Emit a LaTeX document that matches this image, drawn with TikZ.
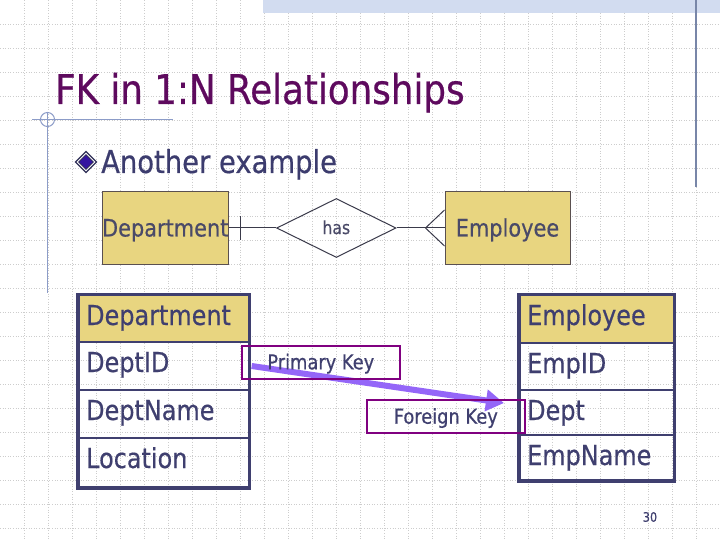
\documentclass[tikz,border=0pt]{standalone}
\usepackage{fontspec}
\setmainfont{DejaVu Sans}[FakeStretch=0.87,FakeBold=0.5]
\usetikzlibrary{shapes.geometric,arrows.meta,calc}
\definecolor{titlec}{HTML}{5E0A5E}
\definecolor{bodyc}{HTML}{3C3C6E}
\definecolor{tanc}{HTML}{E8D580}
\definecolor{navyc}{HTML}{3F3F6F}
\definecolor{erline}{HTML}{3A3A4A}
\definecolor{erbord}{HTML}{5A5050}
\definecolor{ertext}{HTML}{4A4A68}
\definecolor{keyc}{HTML}{800080}
\definecolor{arrc}{HTML}{9466F8}
\definecolor{gridc}{HTML}{CDCDCD}
\definecolor{decoc}{HTML}{8C9CC8}
\definecolor{rlinec}{HTML}{7886A8}
\definecolor{bandc}{HTML}{D2DCF0}
\definecolor{bulletc}{HTML}{3414A0}
\pgfdeclarelayer{bg}
\pgfdeclarelayer{mid}
\pgfsetlayers{bg,mid,main}
\tikzset{
  gridline/.style={draw=gridc, line width=0.7pt, dash pattern=on 1pt off 1.6pt},
  deco/.style={draw=decoc, line width=1pt},
  erbox/.style={draw=erbord, fill=tanc, line width=1pt, inner sep=0pt, text=ertext,
    font=\fontsize{24}{28}\selectfont, text height=18pt, text depth=1pt},
  erl/.style={draw=erline, line width=1pt},
  cellbox/.style={draw=navyc, line width=2pt, inner sep=0pt, anchor=north west},
  headbox/.style={cellbox, fill=tanc},
  celltxt/.style={anchor=base west, inner sep=0pt, text=navyc, font=\fontsize{27.5}{32}\selectfont},
  keybox/.style={draw=keyc, line width=2pt, inner sep=0pt, text=navyc,
    font=\fontsize{20.5}{24}\selectfont, text height=15pt, text depth=1pt},
  fkarrow/.style={draw=arrc, line width=6pt, -{Triangle[length=18pt,width=21pt]}},
}
\begin{document}
\begin{tikzpicture}[x=1pt,y=-1pt]
\useasboundingbox (0,0) rectangle (720,540);
\begin{pgfonlayer}{bg}
  \fill[white] (0,0) rectangle (720,540);
  \foreach \i in {24,48,...,696} { \draw[gridline] (\i,0) -- (\i,540); }
  \foreach \j in {24,48,...,528} { \draw[gridline] (0,\j) -- (720,\j); }
  \fill[bandc] (263,0) rectangle (720,13);
  \draw[draw=rlinec, line width=1.5pt] (696,0) -- (696,187);
  \draw[deco] (47,112) -- (47,293);
  \draw[deco] (32,119.5) -- (173,119.5);
  \draw[deco] (47.5,119.5) circle (7);
\end{pgfonlayer}

% title and bullet
\node[anchor=base west, inner sep=0pt, text=titlec, font=\fontsize{41}{48}\selectfont] (title) at (55,104) {FK in 1:N Relationships};
\node[diamond, fill=navyc!80!black, minimum width=23pt, minimum height=23pt, inner sep=0pt] (b1) at (86,162) {};
\node[diamond, fill=white, minimum width=19pt, minimum height=19pt, inner sep=0pt] (b2) at (b1.center) {};
\node[diamond, fill=bulletc, draw=navyc!70!black, line width=0.6pt, minimum width=15pt, minimum height=15pt, inner sep=0pt] (b3) at (b1.center) {};
\node[anchor=base west, inner sep=0pt, text=bodyc, font=\fontsize{31.5}{36}\selectfont] (sub) at (101,173) {Another example};

% ER diagram
\node[erbox, minimum width=126.5pt, minimum height=72pt] (der) at (165.25,228) {Department};
\node[erbox, minimum width=125pt, minimum height=72pt] (eer) at (507.5,228) {Employee};
\node[diamond, draw=erline, line width=1pt, minimum width=119.4pt, minimum height=59pt, inner sep=0pt,
  text=ertext, font=\fontsize{18}{20}\selectfont, text height=12pt, text depth=0pt] (has) at (336.3,228) {has};
\draw[erl] (der.east) -- (has.west);
\coordinate (bar) at ($(der.east)+(11.5,0)$);
\draw[erl] ($(bar)+(0,-11.5)$) -- ($(bar)+(0,12)$);
\draw[erl] (has.east) -- (eer.west);
\coordinate (crow) at ($(eer.west)+(-19,0)$);
\draw[erl] (crow) -- ($(eer.west)+(0,-18)$);
\draw[erl] (crow) -- ($(eer.west)+(0,18)$);

% Department table
\node[headbox, minimum width=170pt, minimum height=47pt] (d0) at (77.5,294) {};
\node[cellbox, minimum width=170pt, minimum height=48pt] (d1) at (77.5,341) {};
\node[cellbox, minimum width=170pt, minimum height=48pt] (d2) at (77.5,389) {};
\node[cellbox, minimum width=170pt, minimum height=49pt] (d3) at (77.5,437) {};
\draw[draw=navyc, line width=3pt] (d0.north west) rectangle (d3.south east);
\node[celltxt] (t0) at ($(d0.north west)+(8.5,31)$) {Department};
\node[celltxt] (t1) at ($(d1.north west)+(8.5,31)$) {DeptID};
\node[celltxt] (t2) at ($(d2.north west)+(8.5,31)$) {DeptName};
\node[celltxt] (t3) at ($(d3.north west)+(8.5,31)$) {Location};

% Employee table
\node[headbox, minimum width=154pt, minimum height=48pt] (e0) at (518.5,294) {};
\node[cellbox, minimum width=154pt, minimum height=47pt] (e1) at (518.5,342) {};
\node[cellbox, minimum width=154pt, minimum height=45pt] (e2) at (518.5,389) {};
\node[cellbox, minimum width=154pt, minimum height=45pt] (e3) at (518.5,434) {};
\draw[draw=navyc, line width=3pt] (e0.north west) rectangle (e3.south east);
\node[celltxt] (s0) at ($(e0.north west)+(8.5,31)$) {Employee};
\node[celltxt] (s1) at ($(e1.north west)+(8.5,31)$) {EmpID};
\node[celltxt] (s2) at ($(e2.north west)+(8.5,31)$) {Dept};
\node[celltxt] (s3) at ($(e3.north west)+(8.5,31)$) {EmpName};

% keys
\node[keybox, minimum width=158.3pt, minimum height=33.3pt] (pk) at (320.8,362.3) {Primary Key};
\node[keybox, minimum width=158.3pt, minimum height=33.3pt] (fk) at (445.8,416.7) {Foreign Key};
\begin{pgfonlayer}{mid}
\draw[fkarrow] ($(pk.west)+(11,3.7)$) -- ($(fk.north east)+(-22,4)$);
\end{pgfonlayer}

\node[inner sep=0pt, text=navyc, font=\fontsize{13}{15}\selectfont] (pnum) at (650,517) {30};
\end{tikzpicture}
\end{document}
